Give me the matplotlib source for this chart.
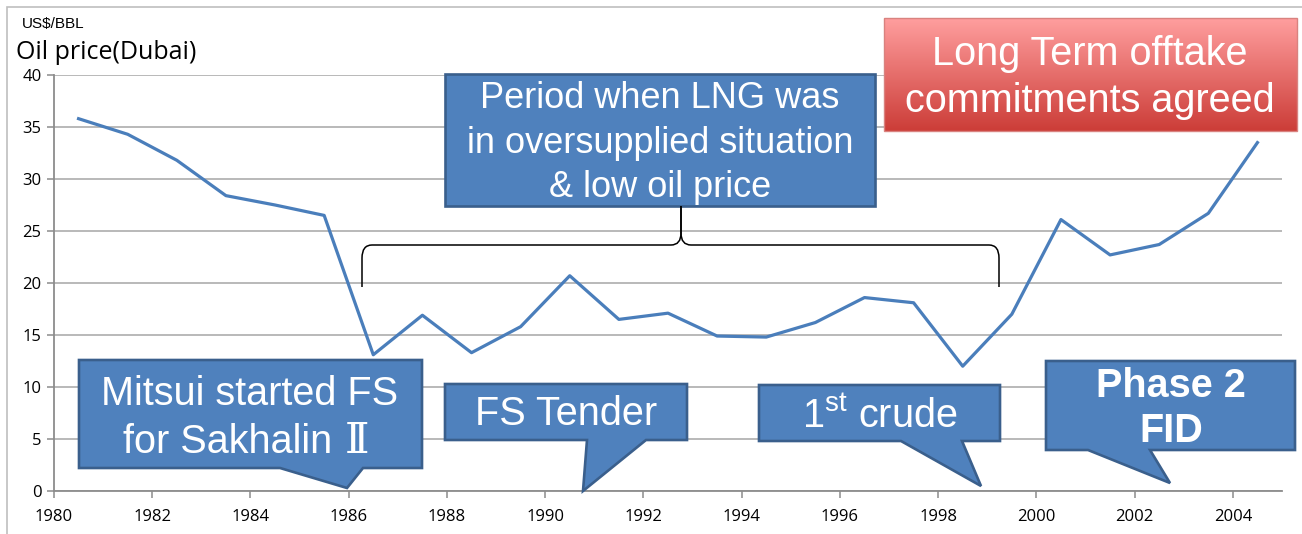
import matplotlib
matplotlib.use("Agg")
import matplotlib.pyplot as plt
import numpy as np
from matplotlib.patches import Polygon, Rectangle, PathPatch
from matplotlib.path import Path

# data (Dubai crude, US$/bbl)
years = [1980, 1981, 1982, 1983, 1984, 1985, 1986, 1987, 1988, 1989, 1990, 1991, 1992,
         1993, 1994, 1995, 1996, 1997, 1998, 1999, 2000, 2001, 2002, 2003, 2004]
prices = [35.8, 34.3, 31.8, 28.4, 27.5, 26.5, 13.1, 16.9, 13.3, 15.8, 20.7, 16.5, 17.1,
          14.9, 14.8, 16.2, 18.6, 18.1, 12.0, 17.0, 26.1, 22.7, 23.7, 26.7, 33.5]
xtick_years = [1980, 1982, 1984, 1986, 1988, 1990, 1992, 1994, 1996, 1998, 2000, 2002, 2004]
yticks = [0, 5, 10, 15, 20, 25, 30, 35, 40]

W, H = 1302, 534
plt.rcParams["mathtext.fontset"] = "custom"
plt.rcParams["mathtext.rm"] = "Liberation Sans"
plt.rcParams["mathtext.default"] = "rm"

fig = plt.figure(figsize=(W / 100, H / 100), dpi=100)


def fx(x, y):
    # pixel position (from top-left) -> figure fraction
    return (x / W, 1 - y / H)


ax = fig.add_axes([54 / W, 1 - 491 / H, (1282 - 54) / W, (491 - 75) / H])
ax.plot(np.array(years) + 0.5, prices, color="#4A7EBB", lw=2.3, zorder=3,
        solid_joinstyle="round")
ax.set_xlim(1980, 2005)
ax.set_ylim(0, 40)
ax.set_xticks(xtick_years)
ax.set_xticklabels([str(y) for y in xtick_years], family="Open Sans", fontsize=12)
ax.set_yticks(yticks)
ax.set_yticklabels([str(v) for v in yticks], family="Open Sans", fontsize=12)
ax.grid(axis="y", color="#A6A6A6", lw=1.1)
ax.set_axisbelow(True)
for s in ["top", "right"]:
    ax.spines[s].set_visible(False)
for s in ["left", "bottom"]:
    ax.spines[s].set_color("#8C8C8C")
    ax.spines[s].set_linewidth(1.3)
ax.tick_params(color="#8C8C8C", length=5, width=1.1, pad=4)
ax.tick_params(axis="x", pad=8)

# outer frame
fig.add_artist(Rectangle(fx(7, 540), W / W, (540 - 7) / H, transform=fig.transFigure,
                         fill=False, ec="#BFBFBF", lw=1.2, zorder=0))

fig.text(*fx(22, 28), "US$/BBL", family="Liberation Sans", fontsize=11, va="baseline")
fig.text(*fx(16, 59), "Oil price(Dubai)", family="Open Sans", fontsize=18, va="baseline")

blue, blue_edge = "#4F81BD", "#3A5F8C"


def callout(pts, lines, size=28.5, weight="normal"):
    poly = Polygon([fx(x, y) for x, y in pts], closed=True, transform=fig.transFigure,
                   fc=blue, ec=blue_edge, lw=1.9, zorder=2, joinstyle="miter")
    fig.add_artist(poly)
    for txt, cx, base in lines:
        fig.text(*fx(cx, base), txt, ha="center", va="baseline", color="white",
                 fontsize=size, weight=weight, family="Liberation Sans", zorder=4)


# Mitsui started FS
callout([(79, 360), (422, 360), (422, 468), (363, 468), (347, 488), (280, 468), (79, 468)],
        [("Mitsui started FS", 250, 405)])
fig.text(*fx(123, 453), "for Sakhalin", ha="left", va="baseline", color="white",
         fontsize=28.5, family="Liberation Sans", zorder=4)
fig.text(*fx(357, 453), "\u2161", ha="center", va="baseline", color="white",
         fontsize=30, family=["DejaVu Serif", "DejaVu Sans"], zorder=4)
# FS Tender
callout([(445, 384), (687, 384), (687, 440), (646, 440), (583, 491), (587, 440), (445, 440)],
        [("FS Tender", 566, 425)])
# 1st crude
callout([(759, 385), (1000, 385), (1000, 441), (962, 441), (981, 486), (901, 441), (759, 441)],
        [("1$^{\\mathrm{st}}$ crude", 880, 428)])
# Phase 2 FID
callout([(1046, 361), (1295, 361), (1295, 450), (1150, 450), (1170, 483), (1088, 450), (1046, 450)],
        [("Phase 2", 1171, 397), ("FID", 1171, 442)], weight="bold")
# Period box
callout([(445, 74), (875, 74), (875, 206), (445, 206)],
        [("Period when LNG was", 660, 108), ("in oversupplied situation", 660, 153),
         ("& low oil price", 660, 197)], size=26)


# brace
def brace_half(x0, xc, sgn):
    v = [(x0, 287), (x0, 258), (x0, 245), (x0 + sgn * 10, 245),
         (xc - sgn * 10, 245), (xc, 245), (xc, 233), (xc, 206)]
    c = [Path.MOVETO, Path.LINETO, Path.CURVE3, Path.CURVE3,
         Path.LINETO, Path.CURVE3, Path.CURVE3, Path.LINETO]
    return Path([fx(x, y) for x, y in v], c)


for x0, sgn in [(362, 1), (999, -1)]:
    fig.add_artist(PathPatch(brace_half(x0, 681, sgn), fill=False, ec="black", lw=1.1,
                             transform=fig.transFigure, zorder=2))

# red gradient box
rx0, ry0, rx1, ry1 = 884, 18, 1297, 131
gax = fig.add_axes([rx0 / W, 1 - ry1 / H, (rx1 - rx0) / W, (ry1 - ry0) / H])
top = np.array([1.0, 0.62, 0.62])
bot = np.array([0.80, 0.24, 0.22])
t = np.linspace(0, 1, 100)[:, None]
grad = (top[None, :] * (1 - t) + bot[None, :] * t)[:, None, :]
gax.imshow(grad, aspect="auto", extent=[0, 1, 0, 1])
gax.axis("off")
fig.add_artist(Rectangle(fx(rx0, ry1), (rx1 - rx0) / W, (ry1 - ry0) / H,
                         transform=fig.transFigure, fill=False, ec="#D9827F", lw=1.0, zorder=2))
for txt, base in [("Long Term offtake", 65), ("commitments agreed", 112)]:
    fig.text(*fx(1090, base), txt, ha="center", va="baseline", color="white",
             fontsize=28.5, family="Liberation Sans", zorder=4)

fig.savefig("out.png", dpi=100)
